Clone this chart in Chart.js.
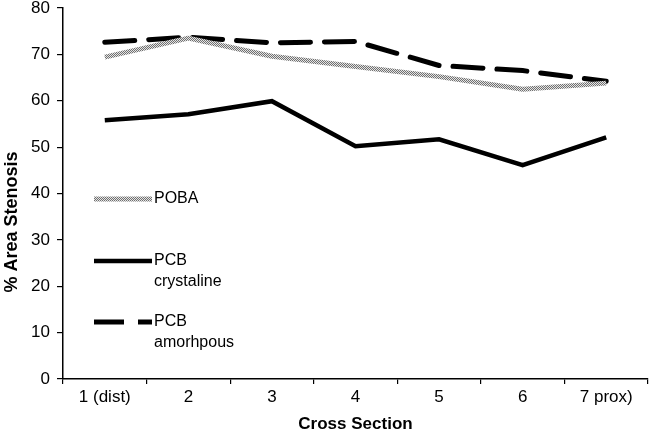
<!doctype html>
<html>
<head>
    <script src="https://cdn.jsdelivr.net/npm/chart.js@4.4.0/dist/chart.umd.min.js"></script>
    <style>
        body { margin: 0; background: #fff; }
        .wrap { width: 650px; height: 437px; }
    </style>
</head>
<body>
<div class="wrap"><canvas id="chart" width="650" height="437"></canvas></div>
<script>
    const labels = ['1 (dist)', '2', '3', '4', '5', '6', '7 prox)'];
    const poba = [69.4, 73.5, 69.6, 67.4, 65.2, 62.5, 63.8];
    const pcbCrystaline = [55.8, 57.1, 59.9, 50.2, 51.7, 46.1, 52.1];
    const pcbAmorphous = [72.6, 73.7, 72.5, 72.8, 67.6, 66.5, 64.2];
    const legendNames = [['POBA'], ['PCB', 'crystaline'], ['PCB', 'amorhpous']];

    // speckled grey texture for the POBA line
    function speckle() {
        const c = document.createElement('canvas');
        c.width = 2; c.height = 2;
        const g = c.getContext('2d');
        g.fillStyle = '#e4e4e4';
        g.fillRect(0, 0, 2, 2);
        g.fillStyle = '#707070';
        g.fillRect(0, 0, 1, 1);
        g.fillRect(1, 1, 1, 1);
        return g.createPattern(c, 'repeat');
    }

    // legend drawn inside the plot, left side, two-line labels
    const innerLegend = {
        id: 'innerLegend',
        afterDatasetsDraw(chart) {
            const ctx = chart.ctx;
            const rows = [199, 261, 322];
            chart.data.datasets.forEach((ds, i) => {
                const y = rows[i];
                ctx.save();
                ctx.strokeStyle = ds.borderColor;
                ctx.lineWidth = ds.borderWidth;
                ctx.setLineDash(ds.borderDash || []);
                ctx.beginPath();
                ctx.moveTo(94, y);
                ctx.lineTo(152, y);
                ctx.stroke();
                ctx.restore();
                ctx.save();
                ctx.fillStyle = '#000';
                ctx.font = '16px "Liberation Sans", Arial, sans-serif';
                ctx.textBaseline = 'middle';
                legendNames[i].forEach((t, k) => ctx.fillText(t, 154, y + k * 21));
                ctx.restore();
            });
        }
    };

    const yTitle = {
        id: 'yTitle',
        afterDraw(chart) {
            const ctx = chart.ctx;
            ctx.save();
            ctx.translate(12, 222);
            ctx.rotate(-Math.PI / 2);
            ctx.fillStyle = '#000';
            ctx.font = 'bold 18px "Liberation Sans", Arial, sans-serif';
            ctx.textAlign = 'center';
            ctx.textBaseline = 'middle';
            ctx.fillText('% Area Stenosis', 0, 0);
            ctx.restore();
        }
    };

    const ctx = document.getElementById('chart').getContext('2d');
    const chart = new Chart(ctx, {
        type: 'line',
        data: {
            labels: labels,
            datasets: [
                { label: 'POBA', data: poba, borderColor: speckle(), borderWidth: 5, pointRadius: 0, tension: 0, borderJoinStyle: 'round' },
                { label: 'PCB crystaline', data: pcbCrystaline, borderColor: '#000', borderWidth: 4.5, pointRadius: 0, tension: 0 },
                { label: 'PCB amorhpous', data: pcbAmorphous, borderColor: '#000', borderWidth: 5, borderDash: [30, 14], borderCapStyle: 'round', pointRadius: 0, tension: 0 }
            ]
        },
        options: {
            responsive: false,
            animation: false,
            layout: { padding: { top: 0, right: 2, left: 0, bottom: 0 } },
            plugins: { legend: { display: false }, tooltip: { enabled: false } },
            scales: {
                x: {
                    offset: true,
                    grid: { offset: true, drawOnChartArea: false, drawTicks: true, tickLength: 5, color: '#000', lineWidth: 1.2 },
                    border: { display: true, color: '#000', width: 1.5 },
                    ticks: { color: '#000', font: { family: '"Liberation Sans", Arial, sans-serif', size: 17 }, padding: 3, maxRotation: 0, autoSkip: false },
                    title: { display: true, text: 'Cross Section', color: '#000', font: { family: '"Liberation Sans", Arial, sans-serif', size: 17, weight: 'bold' }, padding: { top: 0, bottom: 2 } },
                    afterFit(s) { s.height = 58; s.paddingLeft = 0; s.paddingRight = 0; }
                },
                y: {
                    min: 0,
                    max: 80,
                    ticks: { stepSize: 10, color: '#000', font: { family: '"Liberation Sans", Arial, sans-serif', size: 17 }, padding: 7 },
                    grid: { drawOnChartArea: false, drawTicks: true, tickLength: 6, color: '#000', lineWidth: 1.2 },
                    border: { display: true, color: '#000', width: 1.5 },
                    afterFit(s) { s.width = 63; s.paddingTop = 8; s.paddingBottom = 0; }
                }
            }
        },
        plugins: [innerLegend, yTitle]
    });
</script>
</body>
</html>
